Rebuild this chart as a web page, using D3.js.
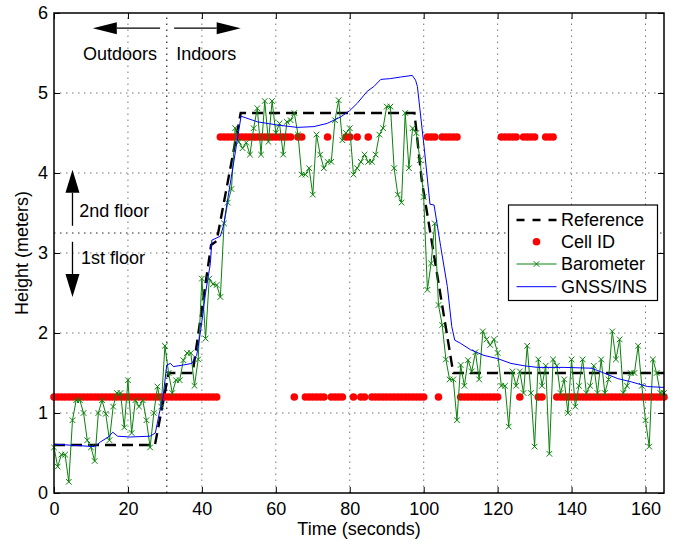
<!DOCTYPE html>
<html>
<head>
<meta charset="utf-8">
<script src="https://cdn.jsdelivr.net/npm/d3@7"></script>
<style>
  html, body { margin: 0; padding: 0; background: #fff; }
  svg { display: block; font-family: 'Liberation Sans', Arial, Helvetica, sans-serif; }
</style>
</head>
<body>
<svg id="chart" width="678" height="541"></svg>
<script>
// ---- data ----
const xTicks = [0, 20, 40, 60, 80, 100, 120, 140, 160]
const yTicks = [0, 1, 2, 3, 4, 5, 6]

// reference height profile [time, height]
const refTime = [0, 27.3, 31, 37.5, 42.5, 44, 50.5, 97.5, 99.5, 108, 165]
const refHeight = [0.6, 0.6, 1.5, 1.5, 3.1, 3.15, 4.75, 4.75, 3.9, 1.5, 1.5]

// cell ID: floor reported each second (1 = 1st floor cell, 2 = 2nd floor cell)
const cellFloorHeight = { 1: 1.2, 2: 4.45 }
const cellFloor = [
  1,1,1,1,1,1,1,1,1,1, 1,1,1,1,1,1,1,1,1,1, 1,1,1,1,1,1,1,1,1,1,
  1,1,1,1,1,1,1,1,1,1, 1,1,1,1,1,2,2,2,2,2, 2,2,2,2,2,2,2,2,2,2,
  2,2,2,2,2,1,2,2,1,1, 1,1,1,1,2,1,1,1,1,2, 2,1,2,1,1,2,1,1,1,1,
  1,1,1,1,1,1,1,1,1,1, 1,2,2,2,1,2,2,2,2,2, 1,1,1,1,1,1,1,1,1,1,
  1,2,2,2,2,2,1,2,2,2, 2,1,1,2,2,2,1,1,1,1, 1,1,1,1,1,1,1,1,1,1,
  1,1,1,1,1,1,1,1,1,1, 1,1,1,1,1,1
]

// barometer height, one sample per second from t = 0
const baroHeight = [
  0.57, 0.33, 0.48, 0.48, 0.14, 0.91, 1.16, 1.16, 1.00, 0.66,
  0.57, 0.40, 1.00, 1.16, 0.99, 0.66, 1.08, 1.25, 1.25, 0.82,
  1.41, 0.75, 1.16, 1.08, 1.16, 0.91, 0.57, 1.00, 1.33, 1.08,
  1.84, 1.50, 1.25, 1.41, 1.41, 1.66, 1.75, 1.75, 1.34, 1.67,
  2.68, 1.93, 2.68, 2.61, 2.60, 2.45, 3.37, 3.63, 3.80, 4.56,
  4.39, 4.31, 4.38, 4.23, 4.56, 4.81, 4.23, 4.90, 4.39, 4.90,
  4.50, 4.62, 4.23, 4.64, 4.66, 4.75, 4.48, 3.98, 3.98, 4.06,
  3.73, 4.48, 4.23, 4.06, 4.14, 4.14, 4.66, 4.91, 4.41, 4.50,
  4.56, 3.98, 4.06, 4.14, 4.23, 4.14, 4.14, 4.23, 4.48, 4.56,
  4.83, 4.83, 4.06, 3.73, 3.63, 4.75, 4.06, 4.56, 4.50, 4.16,
  3.70, 2.54, 2.87, 3.37, 2.35, 2.10, 1.67, 1.42, 1.42, 0.91,
  1.60, 1.34, 1.66, 1.52, 1.76, 1.42, 2.02, 1.92, 1.85, 1.92,
  1.75, 1.34, 1.34, 0.83, 1.52, 1.34, 1.52, 1.25, 1.84, 1.25,
  0.58, 1.67, 1.34, 1.59, 0.49, 1.67, 1.59, 1.25, 1.42, 1.00,
  1.67, 1.08, 1.34, 1.67, 1.25, 1.34, 1.59, 1.25, 1.67, 1.25,
  1.42, 2.02, 1.67, 1.92, 1.25, 1.34, 1.50, 1.50, 1.84, 1.34,
  0.91, 0.58, 1.67, 1.50, 1.25, 1.25
]

// GNSS/INS height [time, height]
const gnssTime = [0, 11, 12.6, 14.7, 15.9, 17.2, 20.6, 26, 27.4, 28.5, 29.5, 30.5, 31.5, 32.3, 35, 37.3,
  38.2, 38.6, 39.7, 41, 42.3, 42.7, 45, 45.9, 46.8, 48.7, 50.6, 55, 60.4, 65.8, 70.3, 73.9, 77.5,
  80, 82, 84.7, 86.5, 88.4, 91, 93.8, 96.9, 97.8, 98.3, 100.1, 101.7, 102.8, 104.6, 106.4, 107.6, 108.4,
  110, 112.7, 116.3, 120, 123.6, 127.2, 130.8, 138, 145.3, 147.1, 152.5, 156.1, 160.6, 165]
const gnssHeight = [0.61, 0.58, 0.64, 0.70, 0.76, 0.71, 0.70, 0.71, 0.75, 1.0, 1.2, 1.6, 1.62, 1.58, 1.6, 1.62,
  1.7, 1.72, 2.04, 2.5, 2.87, 3.16, 3.21, 3.35, 3.62, 4.16, 4.71, 4.64, 4.6, 4.57, 4.58, 4.62, 4.7,
  4.78, 4.87, 5.02, 5.08, 5.17, 5.18, 5.2, 5.22, 5.16, 5.08, 4.33, 3.61, 3.6, 3.08, 2.58, 2.08, 1.91,
  1.87, 1.79, 1.72, 1.68, 1.62, 1.59, 1.57, 1.57, 1.56, 1.53, 1.43, 1.39, 1.33, 1.32]

// annotations
const doorTime = 30.5
const floorSplit = 3.25

// ---- drawing ----
const svg = d3.select('#chart')
const width = 678
const height = 541
const margin = { top: 13, right: 14, bottom: 48, left: 54 }
const fontSize = 18

svg.append('rect').attr('width', width).attr('height', height).attr('fill', '#fff')

const x = d3.scaleLinear().domain([0, 165]).range([margin.left, width - margin.right])
const y = d3.scaleLinear().domain([0, 6]).range([height - margin.bottom, margin.top])

const g = svg.append('g')

// grid
g.selectAll('.gridx')
  .data(xTicks.filter((d) => d > 0))
  .enter()
  .append('line')
  .attr('x1', (d) => x(d))
  .attr('x2', (d) => x(d))
  .attr('y1', y(0))
  .attr('y2', y(6))
  .attr('stroke', '#777')
  .attr('stroke-width', 1)
  .attr('stroke-dasharray', '1.5,4.5')

g.selectAll('.gridy')
  .data(yTicks.filter((d) => d > 0 && d < 6))
  .enter()
  .append('line')
  .attr('x1', x(0))
  .attr('x2', x(165))
  .attr('y1', (d) => y(d))
  .attr('y2', (d) => y(d))
  .attr('stroke', '#777')
  .attr('stroke-width', 1)
  .attr('stroke-dasharray', '1.5,4.5')

// outdoor / indoor and floor dividers
g.append('line')
  .attr('x1', x(doorTime)).attr('x2', x(doorTime))
  .attr('y1', y(0)).attr('y2', y(6))
  .attr('stroke', '#222').attr('stroke-width', 1.2)
  .attr('stroke-dasharray', '1.5,4.5')

g.append('line')
  .attr('x1', x(0)).attr('x2', x(165))
  .attr('y1', y(floorSplit)).attr('y2', y(floorSplit))
  .attr('stroke', '#222').attr('stroke-width', 1.2)
  .attr('stroke-dasharray', '1.5,4.5')

// reference
const refData = refTime.map((t, i) => [t, refHeight[i]])
g.append('path')
  .datum(refData)
  .attr('fill', 'none')
  .attr('stroke', '#000')
  .attr('stroke-width', 2.4)
  .attr('stroke-dasharray', '11,6')
  .attr('d', d3.line().x((d) => x(d[0])).y((d) => y(d[1])))

// cell ID
g.selectAll('.cell')
  .data(cellFloor)
  .enter()
  .append('circle')
  .attr('class', 'cell')
  .attr('cx', (d, i) => x(i))
  .attr('cy', (d) => y(cellFloorHeight[d]))
  .attr('r', 3.8)
  .attr('fill', '#ff0000')

// barometer
const green = '#0a820a'
g.append('path')
  .datum(baroHeight)
  .attr('fill', 'none')
  .attr('stroke', green)
  .attr('stroke-width', 1)
  .attr('d', d3.line().x((d, i) => x(i)).y((d) => y(d)))

const xMark = (cx, cy, s) =>
  'M' + (cx - s) + ',' + (cy - s) + 'L' + (cx + s) + ',' + (cy + s) +
  'M' + (cx - s) + ',' + (cy + s) + 'L' + (cx + s) + ',' + (cy - s)

g.selectAll('.baroMark')
  .data(baroHeight)
  .enter()
  .append('path')
  .attr('class', 'baroMark')
  .attr('fill', 'none')
  .attr('stroke', green)
  .attr('stroke-width', 1)
  .attr('d', (d, i) => xMark(x(i), y(d), 2.8))

// GNSS/INS
const gnssData = gnssTime.map((t, i) => [t, gnssHeight[i]])
g.append('path')
  .datum(gnssData)
  .attr('fill', 'none')
  .attr('stroke', '#0000ff')
  .attr('stroke-width', 1)
  .attr('d', d3.line().x((d) => x(d[0])).y((d) => y(d[1])))

// axes (ticks point inward, box on all sides)
const styleAxis = (sel) => {
  sel.select('.domain').remove()
  sel.selectAll('line').attr('stroke', '#000')
  sel.selectAll('text').attr('fill', '#000').style('font-size', fontSize + 'px')
}

svg.append('g')
  .attr('transform', 'translate(0,' + y(0) + ')')
  .call(d3.axisBottom(x).tickValues(xTicks).tickSize(-6).tickPadding(9).tickFormat(d3.format('d')))
  .call(styleAxis)
svg.append('g')
  .attr('transform', 'translate(0,' + y(6) + ')')
  .call(d3.axisTop(x).tickValues(xTicks).tickSize(-6).tickFormat(''))
  .call(styleAxis)
svg.append('g')
  .attr('transform', 'translate(' + x(0) + ',0)')
  .call(d3.axisLeft(y).tickValues(yTicks).tickSize(-6).tickPadding(6).tickFormat(d3.format('d')))
  .call(styleAxis)
svg.append('g')
  .attr('transform', 'translate(' + x(165) + ',0)')
  .call(d3.axisRight(y).tickValues(yTicks).tickSize(-6).tickFormat(''))
  .call(styleAxis)

svg.append('rect')
  .attr('x', x(0)).attr('y', y(6))
  .attr('width', x(165) - x(0)).attr('height', y(0) - y(6))
  .attr('fill', 'none').attr('stroke', '#000').attr('stroke-width', 1.5)

// axis titles
svg.append('text')
  .attr('x', (x(0) + x(165)) / 2)
  .attr('y', 535)
  .attr('text-anchor', 'middle')
  .style('font-size', fontSize + 'px')
  .text('Time (seconds)')

svg.append('text')
  .attr('transform', 'translate(28,' + (y(0) + y(6)) / 2 + ') rotate(-90)')
  .attr('text-anchor', 'middle')
  .style('font-size', fontSize + 'px')
  .text('Height (meters)')

// annotation arrows
const arrow = (x1, y1, x2, y2, len, half) => {
  const ang = Math.atan2(y2 - y1, x2 - x1)
  const bx = x2 - len * Math.cos(ang)
  const by = y2 - len * Math.sin(ang)
  g.append('line')
    .attr('x1', x1).attr('y1', y1).attr('x2', bx).attr('y2', by)
    .attr('stroke', '#000').attr('stroke-width', 1.3)
  const px = -Math.sin(ang) * half
  const py = Math.cos(ang) * half
  g.append('path')
    .attr('d', 'M' + x2 + ',' + y2 + 'L' + (bx + px) + ',' + (by + py) + 'L' + (bx - px) + ',' + (by - py) + 'Z')
    .attr('fill', '#000')
}

arrow(x(28.7), y(5.81), x(10.5), y(5.81), 24, 6)
arrow(x(32.5), y(5.81), x(50.5), y(5.81), 24, 6)
arrow(x(5), y(3.34), x(5), y(4.04), 23, 7)
arrow(x(5), y(3.14), x(5), y(2.45), 23, 7)

const note = (t, v, anchor, label) =>
  g.append('text')
    .attr('x', x(t)).attr('y', y(v))
    .attr('text-anchor', anchor)
    .style('font-size', fontSize + 'px')
    .text(label)

note(17.85, 5.41, 'middle', 'Outdoors')
note(41.2, 5.41, 'middle', 'Indoors')
note(6.84, 3.45, 'start', '2nd floor')
note(7.3, 2.86, 'start', '1st floor')

// legend
const legend = svg.append('g').attr('transform', 'translate(508.5,205)')
legend.append('rect')
  .attr('width', 149).attr('height', 95.5)
  .attr('fill', '#fff').attr('stroke', '#000').attr('stroke-width', 1.2)

const items = [
  { label: 'Reference', y: 15 },
  { label: 'Cell ID', y: 36.7 },
  { label: 'Barometer', y: 59 },
  { label: 'GNSS/INS', y: 81.7 }
]

legend.append('line')
  .attr('x1', 8).attr('x2', 48).attr('y1', items[0].y).attr('y2', items[0].y)
  .attr('stroke', '#000').attr('stroke-width', 2.4).attr('stroke-dasharray', '8,8')
legend.append('circle')
  .attr('cx', 28).attr('cy', items[1].y).attr('r', 3.8).attr('fill', '#ff0000')
legend.append('line')
  .attr('x1', 8).attr('x2', 48).attr('y1', items[2].y).attr('y2', items[2].y)
  .attr('stroke', green).attr('stroke-width', 1)
legend.append('path')
  .attr('d', xMark(28, items[2].y, 2.8)).attr('stroke', green).attr('fill', 'none')
legend.append('line')
  .attr('x1', 8).attr('x2', 48).attr('y1', items[3].y).attr('y2', items[3].y)
  .attr('stroke', '#0000ff').attr('stroke-width', 1)

legend.selectAll('.legendText')
  .data(items)
  .enter()
  .append('text')
  .attr('x', 52.5)
  .attr('y', (d) => d.y)
  .attr('dy', '0.35em')
  .style('font-size', fontSize + 'px')
  .text((d) => d.label)
</script>
</body>
</html>
